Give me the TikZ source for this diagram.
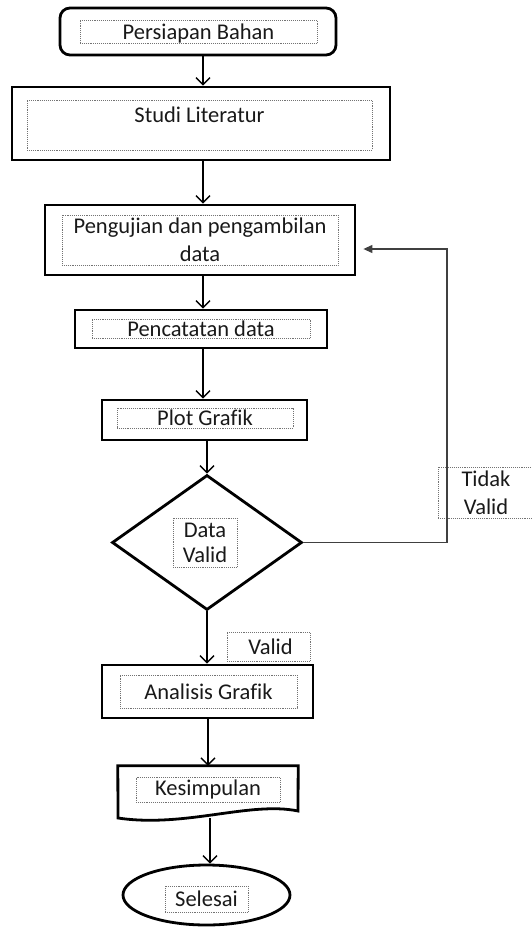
\documentclass[tikz,border=0pt]{standalone}
\usepackage{fontspec}
\setmainfont[Ligatures=NoCommon]{Carlito}
\usetikzlibrary{arrows.meta,shapes.geometric}
\begin{document}
\begin{tikzpicture}[x=1pt,y=-1pt,
  outer/.style={draw, line width=2.8pt, inner sep=0pt},
  inbox/.style={draw=black!55, densely dotted, line width=0.9pt, inner sep=0pt, align=center,
    font=\fontsize{22.5}{26}\selectfont, text=black!90},
  conn/.style={line width=1.4pt, -{Straight Barb[length=7pt,width=14pt,line width=1.4pt]}},
  fb/.style={line width=1.2pt, black!75, -{Triangle[length=9pt,width=8pt]}}
]
\useasboundingbox (0,0) rectangle (532,928);

% Persiapan Bahan
\node[outer, rounded corners=10pt, minimum width=276pt, minimum height=47pt] (pb) at (198,31.5) {};
\node[inbox, minimum width=237pt, minimum height=23pt, text depth=0pt] (pbt) at (198.5,31.5) {Persiapan Bahan};

% Studi Literatur
\node[outer, minimum width=378pt, minimum height=73pt] (sl) at (201,123.5) {};
\node[inbox, minimum width=345pt, minimum height=50pt, text depth=20pt] (slt) at (199.5,125) {Studi Literatur};

% Pengujian
\node[outer, minimum width=310pt, minimum height=70pt] (pd) at (200,240) {};
\node[inbox, minimum width=276pt, minimum height=50pt, text depth=0pt, font=\fontsize{22.5}{28}\selectfont] (pdt) at (200,240) {Pengujian dan pengambilan\\data};

% Pencatatan
\node[outer, minimum width=252pt, minimum height=38pt] (pc) at (201,329) {};
\node[inbox, minimum width=218pt, minimum height=19pt, text depth=0pt] (pct) at (201,328.5) {Pencatatan data};

% Plot Grafik
\node[outer, minimum width=205pt, minimum height=40pt] (pg) at (204.5,420) {};
\node[inbox, minimum width=176pt, minimum height=20pt, text depth=0pt] (pgt) at (205,418) {Plot Grafik};

% Decision
\node[draw, line width=2.8pt, diamond, minimum width=190pt, minimum height=135pt, inner sep=0pt] (dv) at (207,542.5) {};
\node[inbox, minimum width=64pt, minimum height=49pt, text depth=0pt, font=\fontsize{22.5}{25}\selectfont] (dvt) at (205,542.5) {Data\\Valid};

% Tidak Valid label
\node[inbox, minimum width=96pt, minimum height=51pt, text depth=0pt, font=\fontsize{22.5}{28}\selectfont] (tv) at (486,492.5) {Tidak\\Valid};

% Valid label
\node[inbox, minimum width=83pt, minimum height=29pt] (vl) at (268.5,646.5) {\hspace*{4pt}Valid};

% Analisis Grafik
\node[outer, minimum width=211pt, minimum height=53pt] (ag) at (207.5,691.5) {};
\node[inbox, minimum width=177pt, minimum height=33pt] (agt) at (208.5,691.5) {Analisis Grafik};

% Kesimpulan (document shape)
\node[minimum width=180pt, minimum height=52pt, inner sep=0pt] (ks) at (208,792) {};
\draw[line width=2.8pt, line join=miter] (ks.north west) -- (ks.north east) -- (298,811)
  .. controls (250,801) and (185,828) .. (118,818) -- cycle;
\node[inbox, minimum width=144pt, minimum height=25pt] (kst) at (208,789.5) {Kesimpulan};

% Selesai
\node[draw, line width=2.8pt, ellipse, minimum width=167pt, minimum height=60pt, inner sep=0pt] (se) at (206.5,895) {};
\node[inbox, minimum width=83pt, minimum height=26pt] (set) at (206.5,899) {Selesai};

% connectors
\draw[conn] (pb.south -| 203,0) -- (sl.north -| 203,0);
\draw[conn] (sl.south -| 203,0) -- (pd.north -| 203,0);
\draw[conn] (pd.south -| 203,0) -- (pc.north -| 203,0);
\draw[conn] (pc.south -| 203,0) -- (pg.north -| 203,0);
\draw[conn] (pg.south -| dv.north) -- (dv.north);
\draw[conn] (dv.south) -- (ag.north -| dv.south);
\draw[conn] (ag.south -| 208,0) -- (ks.north -| 208,0);
\draw[conn] (210,818) -- (se.north -| 210,0);
\coordinate (fbc) at (447,0);
\draw[fb] (dv.east) -- (dv.east -| fbc) -- (fbc |- 249,249) -- ([xshift=7pt]pd.east |- 249,249);
\end{tikzpicture}
\end{document}
